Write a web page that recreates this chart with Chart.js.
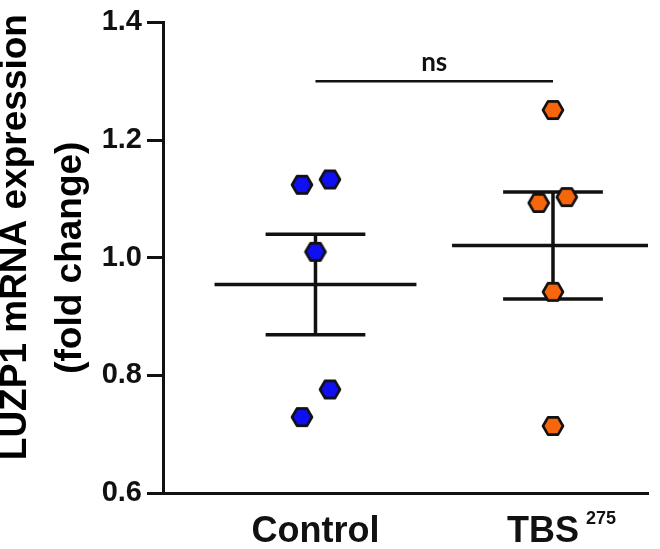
<!DOCTYPE html>
<html lang="en">
<head>
<meta charset="UTF-8">
<title>LUZP1 mRNA expression</title>
<script src="https://cdn.jsdelivr.net/npm/chart.js"></script>
<style>
  body { margin: 0; background: #fff; }
  .wrap { width: 660px; height: 549px; }
</style>
</head>
<body>
<div class="wrap"><canvas id="luzpChart" width="660" height="549"></canvas></div>
<script>
// categories and the x value each group sits at
const categories = ['Control', 'TBS'];
const categorySup = ['', '275'];
const groupX = [1, 2];

// fold change per sample
const controlValues = [1.124, 1.133, 1.010, 0.776, 0.729];
const controlJitter = [-0.057, 0.061, 0, 0.061, -0.057];
const tbsValues = [1.251, 1.103, 1.093, 0.942, 0.714];
const tbsJitter = [0, 0.058, -0.06, 0, 0];

// y axis ticks
const yTicks = [0.6, 0.8, 1.0, 1.2, 1.4];

// significance bar
const nsLevel = 1.30;
const nsText = 'ns';

const FONT = '"Liberation Sans", Arial, Helvetica, sans-serif';
Chart.defaults.font.family = FONT;

function makeHex(fill) {
  const c = document.createElement('canvas');
  c.width = 26;
  c.height = 24;
  const g = c.getContext('2d');
  const r = 10;
  g.beginPath();
  for (let k = 0; k < 6; k++) {
    const a = k * Math.PI / 3;
    const px = 13 + r * Math.cos(a);
    const py = 12 + r * Math.sin(a);
    if (k === 0) g.moveTo(px, py); else g.lineTo(px, py);
  }
  g.closePath();
  g.fillStyle = fill;
  g.fill();
  g.lineWidth = 2.6;
  g.lineJoin = 'round';
  g.strokeStyle = '#111';
  g.stroke();
  return c;
}

function meanSem(vals) {
  const n = vals.length;
  const m = vals.reduce((a, b) => a + b, 0) / n;
  const sd = Math.sqrt(vals.reduce((a, b) => a + (b - m) * (b - m), 0) / (n - 1));
  return { mean: m, sem: sd / Math.sqrt(n) };
}

function segment(x1, y1, x2, y2) {
  return {
    type: 'line',
    data: [{ x: x1, y: y1 }, { x: x2, y: y2 }],
    borderColor: '#111',
    borderWidth: 3.5,
    borderCapStyle: 'butt',
    pointRadius: 0,
    showLine: true,
    order: 1
  };
}

const groups = [
  { x: groupX[0], values: controlValues, jitter: controlJitter, color: '#0f0ff2' },
  { x: groupX[1], values: tbsValues, jitter: tbsJitter, color: '#f7660c' }
];

const datasets = [];
groups.forEach(g => {
  datasets.push({
    type: 'scatter',
    data: g.values.map((v, i) => ({ x: g.x + g.jitter[i], y: v })),
    pointStyle: makeHex(g.color),
    pointRadius: 11,
    order: 0
  });
  const s = meanSem(g.values);
  datasets.push(segment(g.x - 0.425, s.mean, g.x + 0.425, s.mean));
  datasets.push(segment(g.x - 0.21, s.mean + s.sem, g.x + 0.21, s.mean + s.sem));
  datasets.push(segment(g.x - 0.21, s.mean - s.sem, g.x + 0.21, s.mean - s.sem));
  datasets.push(segment(g.x, s.mean - s.sem, g.x, s.mean + s.sem));
});
const nsBar = segment(groupX[0], nsLevel, groupX[1], nsLevel);
nsBar.borderWidth = 2.5;
datasets.push(nsBar);

const LABEL_SIZE = 36;
const LABEL_PAD = '  ';

// "ns" over the bar, and superscripts after the x labels
const extraText = {
  id: 'extraText',
  afterDraw(chart) {
    const { ctx, scales: { x, y } } = chart;
    ctx.save();
    ctx.fillStyle = '#111';
    ctx.font = 'bold 26px Lato, ' + FONT;
    ctx.textAlign = 'center';
    ctx.textBaseline = 'alphabetic';
    ctx.fillText(nsText, x.getPixelForValue((groupX[0] + groupX[1]) / 2), y.getPixelForValue(nsLevel) - 10);

    groupX.forEach((gx, i) => {
      if (!categorySup[i]) return;
      ctx.font = 'bold ' + LABEL_SIZE + 'px ' + FONT;
      const full = ctx.measureText(categories[i] + LABEL_PAD).width;
      const main = ctx.measureText(categories[i]).width;
      const left = x.getPixelForValue(gx) - full / 2;
      ctx.font = 'bold 18px ' + FONT;
      ctx.textAlign = 'left';
      ctx.textBaseline = 'alphabetic';
      ctx.fillText(categorySup[i], left + main + 7, x.top + 31);
    });
    ctx.restore();
  }
};

new Chart(document.getElementById('luzpChart'), {
  type: 'scatter',
  data: { datasets: datasets },
  plugins: [extraText],
  options: {
    responsive: false,
    animation: false,
    layout: { padding: { top: 16, right: 7, bottom: 0, left: 0 } },
    plugins: { legend: { display: false }, tooltip: { enabled: false } },
    scales: {
      x: {
        type: 'linear',
        min: 0.358,
        max: 2.4,
        afterBuildTicks: s => { s.ticks = groupX.map(v => ({ value: v })); },
        afterFit: s => { s.height = 56; },
        grid: { display: false },
        border: { display: true, width: 3, color: '#111' },
        ticks: {
          callback: (v, i) => categories[i] + (categorySup[i] ? LABEL_PAD : ''),
          color: '#111',
          padding: 9,
          maxRotation: 0,
          autoSkip: false,
          font: { size: LABEL_SIZE, weight: 'bold' }
        }
      },
      y: {
        min: 0.6,
        max: 1.4,
        afterBuildTicks: s => { s.ticks = yTicks.map(v => ({ value: v })); },
        afterFit: s => { s.width = 163; },
        grid: { drawOnChartArea: false, drawTicks: true, tickLength: 16, lineWidth: 3, color: '#111' },
        border: { display: true, width: 3, color: '#111' },
        ticks: {
          callback: v => v.toFixed(1),
          color: '#111',
          padding: 5,
          font: { size: 29, weight: 'bold' }
        },
        title: {
          display: true,
          text: ['    LUZP1 mRNA expression', '(fold change)'],
          color: '#000',
          padding: { top: -12, bottom: 0 },
          font: { size: 37, weight: 'bold', lineHeight: 1.49 }
        }
      }
    }
  }
});
</script>
</body>
</html>
